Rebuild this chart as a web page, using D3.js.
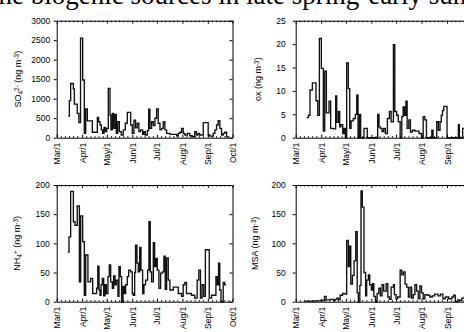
<!DOCTYPE html>
<html><head><meta charset="utf-8">
<script src="https://cdn.jsdelivr.net/npm/d3@7"></script>
<style>body{margin:0;background:#fff;overflow:hidden}svg{display:block}</style>
</head><body>
<svg id="c" width="464" height="332"></svg>
<script>
// ---- data (days counted from Mar/1) ----
const monthDays = [0,31,61,92,122,153,184,214];
const monthLabels = ["Mar/1","Apr/1","May/1","Jun/1","Jul/1","Aug/1","Sep/1","Oct/1"];

const so4Ticks = [0,500,1000,1500,2000,2500,3000];
const oxTicks = [0,5,10,15,20,25];
const nh4Ticks = [0,50,100,150,200];
const msaTicks = [0,50,100,150,200];

const so4Days = [14,15.4,17,20.3,21.5,25,27,29,31.6,33.6,35.3,37.3,43.4,49.5,51,52.7,54.3,56,57.6,59.2,60.8,62.8,64.9,66,67.7,69.3,71,72.6,74.2,76.2,78.6,81,83.5,86,90,92,94,96,98,100,102,104.6,106.2,107.8,110.3,112,113.5,115.5,117.6,119.6,121.6,123.6,125.7,127.7,129.7,131.7,133.8,137.8,146,148,150,152,154,156,159,162,165,168,170,172,174,178.4,184.4,186.5,190.5,192.6,194.6,196.6,198.6,200.7,202.7,204.7,206.8,208.8];
const so4Vals = [555,950,1390,1250,860,625,385,2550,1480,110,735,430,140,520,410,325,200,110,265,155,240,1265,580,200,625,240,600,110,410,155,70,200,370,650,325,110,450,255,370,155,200,85,155,70,180,730,240,410,310,500,735,370,200,240,410,200,110,85,50,110,140,240,110,70,110,50,25,155,70,110,70,385,70,40,110,200,325,435,240,70,110,140,25,25];

const oxDays = [13.4,15.4,17.4,20.3,24.7,26.8,28.8,31.2,33.6,35.3,37.3,40.5,42.5,45.8,48.6,49.9,51.9,53.5,55,57.2,58.8,60.4,62,64,65.7,67.3,70,72.5,74.2,75.8,77.5,79,83,87,99.7,101.3,103,105,107,109,111.5,114,116,118.8,120.5,122.7,124.7,127,129,130.6,132.3,134,135.5,137.5,139.5,142,145,150,153,155,157,159,165.5,167,171.5,173.5,175.5,177,178.5,180,184,197.8,199,203,208,210];
const oxVals = [4.3,4.8,10.2,11.7,7.9,4.8,21.2,14.8,1.4,14.2,5.3,7.8,2.0,1.9,8.9,3.3,5.6,2.3,2.8,0.9,2.0,0,16,10.5,2.0,3.6,4.1,5.0,9.1,0,5.0,0,2.0,0,5.0,2.3,2.0,1.3,2.0,0.9,4.1,5.6,3.4,19.9,5.6,4.8,3.4,0,4.5,6.6,4.8,7.8,2.0,3.8,1.2,1.6,1.4,0.9,0,4.5,3.8,0,1.6,0,3.4,1.6,3.4,4.8,5.8,6.7,0,2.8,0,2.0,1.5,0];

const nh4Days = [13.4,15,17,20.3,22.3,25,27.6,29.2,31.6,33.6,35.3,38,41.3,43.8,48.6,50,51.5,52.7,54,55.5,57.2,58.8,60.4,62.4,64,65.7,67.7,69.3,71,72.6,74.6,75.8,77.4,79,80.7,82.3,83.9,85.9,87.6,90,92,93.2,94.9,96,97.7,99.3,101,102.6,104.6,106.2,108.2,110.7,112.3,113.9,115.5,117.6,119.2,120.8,122.4,124.4,126.5,128.5,130.5,132.1,133.8,135.8,137.8,141.9,148,152,154,156,158,164,168,171,173,175,177,179,181,185.7,188.5,193.8,195.5,197,198.5,200,202.7,204.5,206];
const nh4Vals = [85,111,189,137,131,164,34,147,103,11,80,34,40,14,23,61,20,11,29,40,10,29,14,43,63,34,23,44,29,37,9,60,43,0,26,14,29,43,54,51,14,11,50,97,66,51,93,54,14,29,37,54,137,51,34,101,60,74,54,23,49,51,78,21,75,37,20,25,14,9,29,33,14,11,6,37,54,6,29,9,89,6,11,43,29,66,20,0,33,29,29];

const msaDays = [11,22,30,34,35,37,42,46,48,50,52,54,57,60,62,64,65.5,67,69,71,73,74.8,76.2,78,79.4,81,83,85,86.3,88.4,90,92,93.5,95,97,99,101,103,105,107,110,112,114,116,118.8,120,122,124,127,129,131,133,135,137,139,141,143,145,147,149,151,153,155,157,160,163,166,169,173,176,179,182,186,190,192,194,197,199,202,205,208,210];
const msaVals = [1,1.5,2,2,9,3,4,2,4,6,3,11,14,13,105,60,95,30,45,70,120,15,0,28,190,162,50,10,37,46,29,20,31,9,0,14,23,10,29,18,31,8,4,25,29,12,5,8,54,46,51,30,25,8,25,6,12,29,18,5,27,15,5,12,11,8,10,13,10,13,5,8,5,8,11,0,3,2,6,8,4,4];

// ---- drawing ----
const svg = d3.select("#c");
svg.append("rect").attr("width",464).attr("height",332).attr("fill","#fff");

svg.append("text").attr("x",-9).attr("y",4)
  .attr("font-family","'Liberation Serif','Times New Roman',serif")
  .attr("font-size",27).attr("fill","#000")
  .text("the biogenic sources in late spring-early summer");

const minorDays = [];
monthDays.slice(0,-1).forEach((m,i)=>{ for(let k=5;k<monthDays[i+1]-m-2;k+=5) minorDays.push(m+k); });

function panel(opt){
  const {x0,y0,w,h,yMax,ticks,days,vals,title,pad,titleX,xTicks} = opt;
  const g = svg.append("g").attr("font-family","'Liberation Sans',Arial,sans-serif");
  const x = d3.scaleLinear().domain([0,214]).range([x0,x0+w]);
  const y = d3.scaleLinear().domain([0,yMax]).range([y0+h,y0]);

  // data line
  const pts = days.map((d,i)=>[d,vals[i]]);
  const line = d3.line().x(d=>x(d[0])).y(d=>y(d[1])).curve(d3.curveStepAfter);
  g.append("path").datum(pts).attr("d",line).attr("fill","none")
    .attr("stroke","#111").attr("stroke-width",1.35);

  // bottom axis (labelled months)
  const bx = g.append("g").attr("transform",`translate(0,${y0+h})`)
    .call(d3.axisBottom(x).tickValues(xTicks).tickFormat(d=>monthLabels[monthDays.indexOf(d)]).tickSizeInner(-3).tickSizeOuter(0));
  bx.selectAll("text").attr("x",-5).attr("y",0).attr("dy","0.35em")
    .attr("transform","rotate(-90)").style("text-anchor","end").attr("font-size",8.5).attr("fill","#000");
  g.append("g").attr("transform",`translate(0,${y0+h})`)
    .call(d3.axisBottom(x).tickValues(minorDays).tickFormat("").tickSizeInner(-1.5).tickSizeOuter(0))
    .select(".domain").remove();
  // top axis
  g.append("g").attr("transform",`translate(0,${y0})`)
    .call(d3.axisTop(x).tickValues(monthDays).tickFormat("").tickSizeInner(-3).tickSizeOuter(0));
  g.append("g").attr("transform",`translate(0,${y0})`)
    .call(d3.axisTop(x).tickValues(minorDays).tickFormat("").tickSizeInner(-1.5).tickSizeOuter(0))
    .select(".domain").remove();
  // left axis
  const ly = g.append("g").attr("transform",`translate(${x0},0)`)
    .call(d3.axisLeft(y).tickValues(ticks).tickFormat(d3.format("d")).tickSize(3).tickPadding(pad).tickSizeOuter(0));
  ly.selectAll("text").attr("font-size",8.5).attr("fill","#000");
  // right axis
  g.append("g").attr("transform",`translate(${x0+w},0)`)
    .call(d3.axisRight(y).tickValues(ticks).tickFormat("").tickSize(-3).tickSizeOuter(0));
  g.selectAll(".domain").attr("stroke","#000").attr("stroke-width",1);
  g.selectAll(".tick line").attr("stroke","#000");

  // y title
  const t = g.append("text").attr("transform",`translate(${titleX},${y0+h/2}) rotate(-90)`)
    .attr("text-anchor","middle").attr("font-size",9).attr("fill","#000");
  title.forEach(p=>{
    const s = t.append("tspan").text(p[0]);
    if(p[1]==="sub") s.attr("baseline-shift","-25%").attr("font-size",6.5);
    if(p[1]==="sup") s.attr("baseline-shift","35%").attr("font-size",6.5);
  });
}

const m3 = [[" (ng m"],["-3","sup"],[")"]];
const leftTicks = monthDays;
const rightTicks = monthDays.slice(0,-1);
panel({x0:56.7,y0:20.7,w:175.8,h:117,yMax:3000,ticks:so4Ticks,days:so4Days,vals:so4Vals,pad:3.5,titleX:21,xTicks:leftTicks,
  title:[["SO"],["4","sub"],["2-","sup"],...m3]});
panel({x0:295.7,y0:20.7,w:176,h:117,yMax:25,ticks:oxTicks,days:oxDays,vals:oxVals,pad:7,titleX:261,xTicks:rightTicks,
  title:[["ox"],...m3]});
panel({x0:56.7,y0:185,w:175.8,h:116.7,yMax:200,ticks:nh4Ticks,days:nh4Days,vals:nh4Vals,pad:4,titleX:20,xTicks:leftTicks,
  title:[["NH"],["4","sub"],["+","sup"],...m3]});
panel({x0:295.7,y0:185,w:176,h:116.7,yMax:200,ticks:msaTicks,days:msaDays,vals:msaVals,pad:7,titleX:258,xTicks:rightTicks,
  title:[["MSA"],...m3]});
</script>
</body></html>
